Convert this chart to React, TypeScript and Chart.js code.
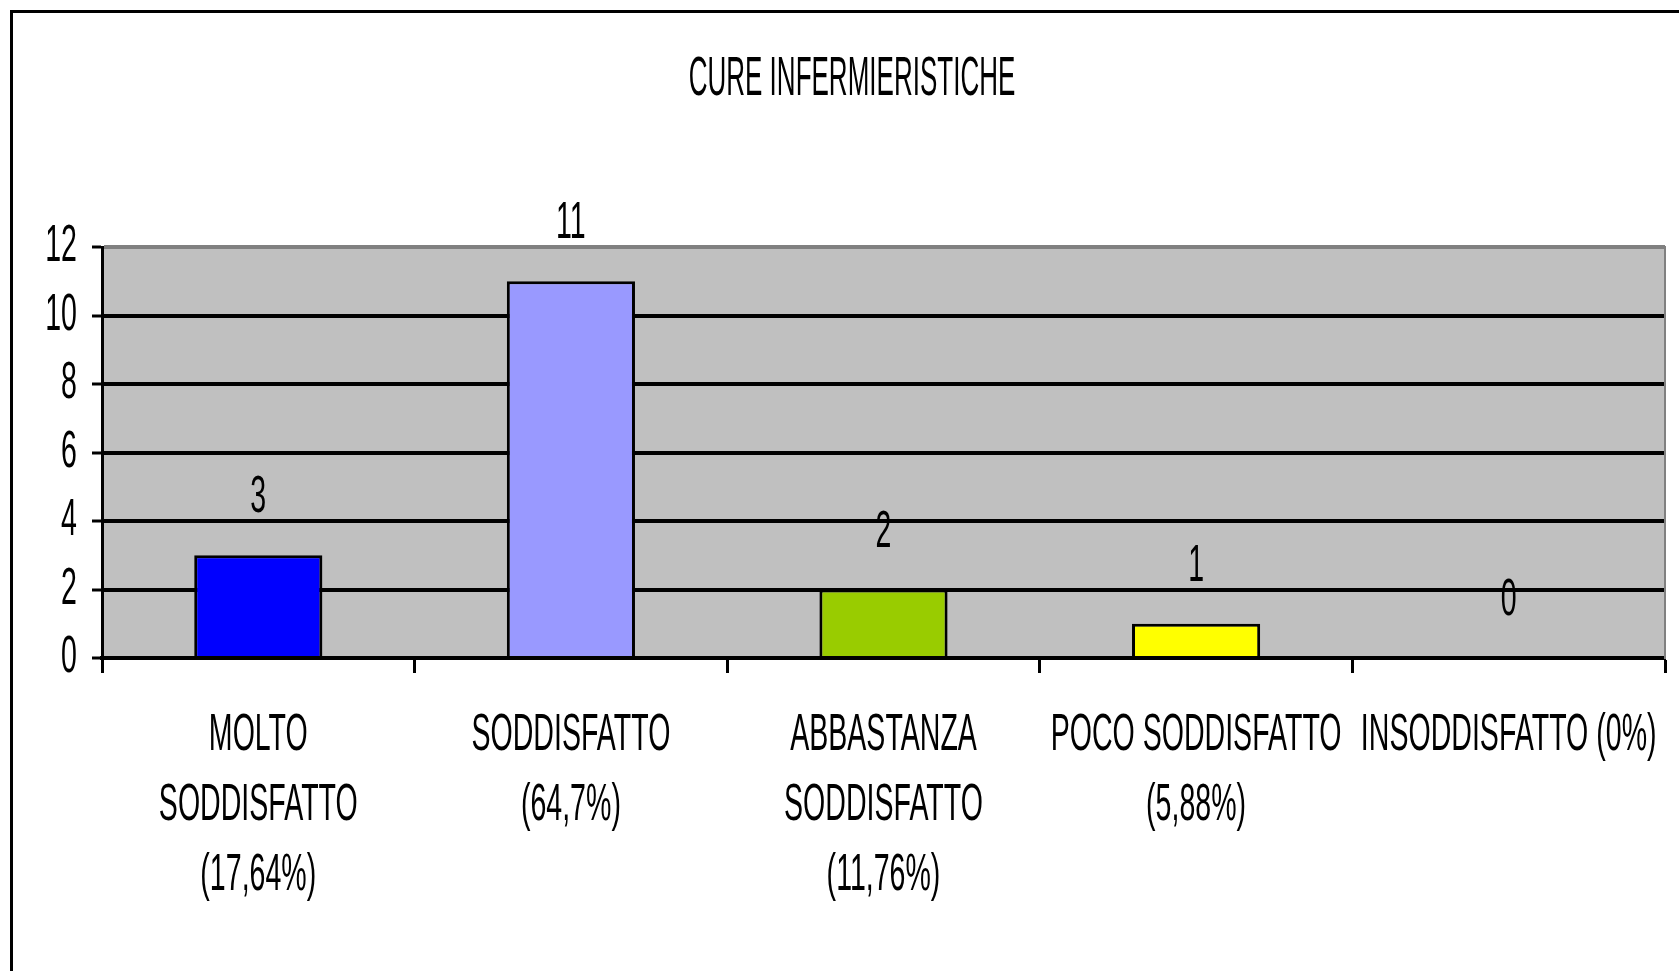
import React, { useEffect, useRef } from "react";
import { Chart, registerables } from "chart.js";

Chart.register(...registerables);

const TITLE = "CURE INFERMIERISTICHE";
const categories: string[][] = [
  ["MOLTO", "SODDISFATTO", "(17,64%)"],
  ["SODDISFATTO", "(64,7%)"],
  ["ABBASTANZA", "SODDISFATTO", "(11,76%)"],
  ["POCO SODDISFATTO", "(5,88%)"],
  ["INSODDISFATTO (0%)"],
];
const values: number[] = [3, 11, 2, 1, 0];
const barColors: string[] = ["#0000FF", "#9999FF", "#99CC00", "#FFFF00", "#FF00FF"];
const yMin = 0;
const yMax = 12;
const yStep = 2;

const FAMILY = "'Liberation Sans', Arial, sans-serif";
const TEXT_SIZE = 51;
const TITLE_SIZE = 55;

function squeezeFor(font: string): number {
  return String(font).indexOf(TITLE_SIZE + "px") >= 0 ? 0.473 : 0.56;
}

// Render text in the reference's tall, condensed style (horizontal squeeze).
const condensePlugin = {
  id: "condense",
  beforeInit(chart: any) {
    const ctx = chart.ctx as any;
    if (ctx.__condensed) return;
    const origFill = ctx.fillText;
    const origMeasure = ctx.measureText;
    ctx.fillText = function (text: string, x: number, y: number, maxWidth?: number) {
      const sx = squeezeFor(this.font);
      this.save();
      this.translate(x, y);
      this.scale(sx, 1);
      if (maxWidth === undefined) origFill.call(this, text, 0, 0);
      else origFill.call(this, text, 0, 0, maxWidth / sx);
      this.restore();
    };
    ctx.measureText = function (text: string) {
      const m = origMeasure.call(this, text);
      const sx = squeezeFor(this.font);
      return {
        width: m.width * sx,
        actualBoundingBoxAscent: m.actualBoundingBoxAscent,
        actualBoundingBoxDescent: m.actualBoundingBoxDescent,
        actualBoundingBoxLeft: m.actualBoundingBoxLeft * sx,
        actualBoundingBoxRight: m.actualBoundingBoxRight * sx,
      };
    };
    ctx.__condensed = true;
  },
};

const plotBgPlugin = {
  id: "plotBg",
  beforeDraw(chart: any) {
    const { ctx, chartArea } = chart;
    ctx.save();
    ctx.fillStyle = "#C0C0C0";
    ctx.fillRect(chartArea.left, chartArea.top, chartArea.right - chartArea.left, chartArea.bottom - chartArea.top);
    ctx.restore();
  },
};

const valueLabelPlugin = {
  id: "valueLabels",
  afterDatasetsDraw(chart: any) {
    const { ctx } = chart;
    const meta = chart.getDatasetMeta(0);
    ctx.save();
    ctx.font = `${TEXT_SIZE}px ${FAMILY}`;
    ctx.fillStyle = "#000";
    ctx.textAlign = "center";
    ctx.textBaseline = "alphabetic";
    meta.data.forEach((bar: any, i: number) => {
      ctx.fillText(String(values[i]), bar.x, bar.y - 43);
    });
    ctx.restore();
  },
};

export default function App() {
  const canvasRef = useRef<HTMLCanvasElement | null>(null);

  useEffect(() => {
    if (!canvasRef.current) return;
    const chart = new Chart(canvasRef.current, {
      type: "bar",
      data: {
        labels: categories,
        datasets: [
          {
            data: values,
            backgroundColor: barColors,
            borderColor: "#000000",
            borderWidth: 3,
            barPercentage: 0.41,
            categoryPercentage: 1,
            yAxisID: "y",
          },
        ],
      },
      options: {
        responsive: false,
        animation: false,
        layout: { padding: 0 },
        plugins: {
          legend: { display: false },
          tooltip: { enabled: false },
          title: {
            display: true,
            text: TITLE,
            color: "#000",
            font: { family: FAMILY, size: TITLE_SIZE, weight: "normal", lineHeight: 1.2 },
            padding: { top: 34, bottom: 134 },
          },
        },
        scales: {
          x: {
            offset: true,
            grid: {
              offset: true,
              drawOnChartArea: false,
              drawTicks: true,
              tickLength: 15,
              tickWidth: 3,
              tickColor: "#000",
            },
            border: { display: true, color: "#000", width: 4 },
            ticks: {
              color: "#000",
              font: { family: FAMILY, size: TEXT_SIZE, lineHeight: 70 / TEXT_SIZE },
              padding: 28,
              maxRotation: 0,
              minRotation: 0,
              autoSkip: false,
            },
            afterFit: (s: any) => {
              s.height = 335;
              s.paddingLeft = 0;
              s.paddingRight = 0;
            },
          },
          y: {
            min: yMin,
            max: yMax,
            ticks: {
              stepSize: yStep,
              color: "#000",
              font: { family: FAMILY, size: TEXT_SIZE },
              padding: 15,
            },
            grid: {
              color: (c: any) => (c.tick && c.tick.value === yMax ? "#808080" : "#000"),
              lineWidth: 4,
              tickLength: 10,
              tickColor: "#000",
              tickWidth: 3,
            },
            border: { display: true, color: "#000", width: 3 },
            afterFit: (s: any) => {
              s.width = 89;
            },
          },
          y2: {
            position: "right",
            min: yMin,
            max: yMax,
            grid: { drawOnChartArea: false, drawTicks: false },
            ticks: { display: false },
            border: { display: true, color: "#808080", width: 2 },
            afterFit: (s: any) => {
              s.width = 26;
            },
          },
        },
      } as any,
      plugins: [condensePlugin, plotBgPlugin, valueLabelPlugin],
    });
    return () => chart.destroy();
  }, []);

  return (
    <div
      style={{
        position: "absolute",
        left: 0,
        top: 0,
        width: 1679,
        height: 971,
        overflow: "hidden",
        background: "#fff",
      }}
    >
      <div
        style={{
          position: "absolute",
          left: 10,
          top: 10,
          width: 1678,
          height: 980,
          border: "3px solid #000",
          background: "#fff",
        }}
      >
        <canvas ref={canvasRef} width={1678} height={980} style={{ display: "block" }} />
      </div>
    </div>
  );
}
